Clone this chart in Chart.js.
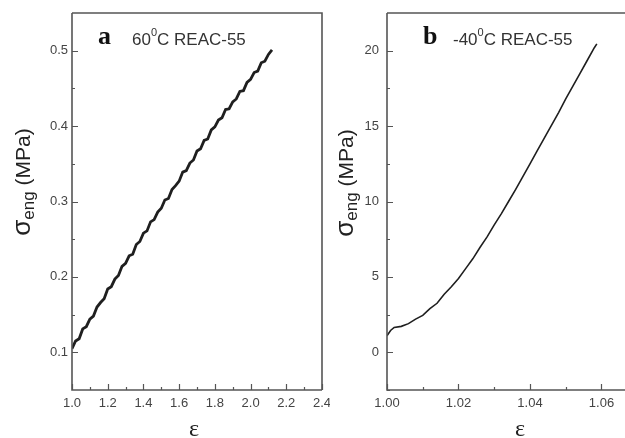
<!DOCTYPE html>
<html>
<head>
<meta charset="utf-8">
<script src="https://cdn.jsdelivr.net/npm/chart.js@4.4.1/dist/chart.umd.min.js"></script>
<style>
  html, body { margin: 0; padding: 0; background: #fff; overflow: hidden; }
  body { width: 625px; height: 438px; position: relative; }
  .panel { position: absolute; top: 0; }
</style>
</head>
<body>
<div class="panel" style="left:0"><canvas id="chartA" width="330" height="438"></canvas></div>
<div class="panel" style="left:330px"><canvas id="chartB" width="300" height="438"></canvas></div>
<script>
// ---- panel a : 60°C, noisy near-linear curve ----
const strainA = [
  1.00, 1.02, 1.04, 1.06, 1.08, 1.10, 1.12, 1.14, 1.16, 1.18,
  1.20, 1.22, 1.24, 1.26, 1.28, 1.30, 1.32, 1.34, 1.36, 1.38,
  1.40, 1.42, 1.44, 1.46, 1.48, 1.50, 1.52, 1.54, 1.56, 1.58,
  1.60, 1.62, 1.64, 1.66, 1.68, 1.70, 1.72, 1.74, 1.76, 1.78,
  1.80, 1.82, 1.84, 1.86, 1.88, 1.90, 1.92, 1.94, 1.96, 1.98,
  2.00, 2.02, 2.04, 2.06, 2.08, 2.10, 2.12
];
const stressA = [
  0.105, 0.115, 0.118, 0.131, 0.134, 0.144, 0.148, 0.160, 0.166, 0.171,
  0.184, 0.187, 0.197, 0.202, 0.214, 0.218, 0.228, 0.230, 0.243, 0.247,
  0.258, 0.261, 0.273, 0.276, 0.286, 0.291, 0.302, 0.304, 0.316, 0.321,
  0.327, 0.339, 0.341, 0.351, 0.355, 0.367, 0.370, 0.381, 0.383, 0.395,
  0.399, 0.408, 0.411, 0.422, 0.423, 0.432, 0.436, 0.446, 0.447, 0.458,
  0.462, 0.471, 0.473, 0.484, 0.486, 0.495, 0.501
];
const xTicksA = [1.0, 1.2, 1.4, 1.6, 1.8, 2.0, 2.2, 2.4];
const xTickLabelsA = ['1.0', '1.2', '1.4', '1.6', '1.8', '2.0', '2.2', '2.4'];
const xMinorA = [1.1, 1.3, 1.5, 1.7, 1.9, 2.1, 2.3];
const yTicksA = [0.1, 0.2, 0.3, 0.4, 0.5];
const yTickLabelsA = ['0.1', '0.2', '0.3', '0.4', '0.5'];
const yMinorA = [0.15, 0.25, 0.35, 0.45];

// ---- panel b : -40°C, stiffening curve ----
const strainB = [
  1.000, 1.001, 1.002, 1.004, 1.006, 1.008, 1.010, 1.012, 1.014, 1.016,
  1.018, 1.020, 1.022, 1.024, 1.026, 1.028, 1.030, 1.032, 1.034, 1.036,
  1.038, 1.040, 1.042, 1.044, 1.046, 1.048, 1.050, 1.052, 1.054, 1.056,
  1.058, 1.0587
];
const stressB = [
  1.1, 1.45, 1.65, 1.72, 1.9, 2.2, 2.45, 2.9, 3.25, 3.85,
  4.35, 4.9, 5.55, 6.2, 6.95, 7.65, 8.45, 9.2, 10.0, 10.8,
  11.65, 12.5, 13.35, 14.2, 15.05, 15.9, 16.8, 17.65, 18.5, 19.35,
  20.2, 20.45
];
const xTicksB = [1.00, 1.02, 1.04, 1.06];
const xTickLabelsB = ['1.00', '1.02', '1.04', '1.06'];
const xMinorB = [1.01, 1.03, 1.05];
const yTicksB = [0, 5, 10, 15, 20];
const yTickLabelsB = ['0', '5', '10', '15', '20'];
const yMinorB = [-2.5, 2.5, 7.5, 12.5, 17.5];

const FRAME = '#555';
const TICK_TEXT = '#444';
const SANS = "'Liberation Sans', Arial, sans-serif";
const SERIF = "'Liberation Serif', 'Times New Roman', serif";

// frame, inward ticks, axis titles and panel caption
function decor(o) {
  return {
    id: 'decor',
    afterDraw(chart) {
      const ctx = chart.ctx;
      const a = chart.chartArea;
      const xs = chart.scales.x, ys = chart.scales.y;
      ctx.save();
      ctx.strokeStyle = FRAME;
      ctx.lineWidth = 1.6;
      ctx.beginPath();
      ctx.moveTo(a.left, a.top);
      ctx.lineTo(a.right + (o.rightBorder ? 0 : 10), a.top);
      if (o.rightBorder) ctx.lineTo(a.right, a.bottom);
      ctx.moveTo(a.left, a.top);
      ctx.lineTo(a.left, a.bottom);
      ctx.lineTo(a.right + (o.rightBorder ? 0 : 10), a.bottom);
      ctx.stroke();

      ctx.lineWidth = 1.2;
      ctx.beginPath();
      const tickX = (vals, len) => vals.forEach(v => {
        const px = Math.round(xs.getPixelForValue(v)) + 0.5;
        ctx.moveTo(px, a.bottom);
        ctx.lineTo(px, a.bottom - len);
      });
      const tickY = (vals, len) => vals.forEach(v => {
        const py = Math.round(ys.getPixelForValue(v)) + 0.5;
        ctx.moveTo(a.left, py);
        ctx.lineTo(a.left + len, py);
      });
      tickX(o.xMajor, 6); tickX(o.xMinor, 3);
      tickY(o.yMajor, 6); tickY(o.yMinor, 3);
      ctx.stroke();

      // y title: σ_eng (MPa), rotated
      ctx.fillStyle = '#222';
      ctx.textBaseline = 'alphabetic';
      ctx.translate(o.yTitleX, o.yTitleY);
      ctx.rotate(-Math.PI / 2);
      const parts = [
        { t: 'σ', f: '26px ' + SANS, dy: 0 },
        { t: 'eng', f: '17px ' + SANS, dy: 4 },
        { t: ' (MPa)', f: '21px ' + SANS, dy: 0 },
      ];
      let total = 0;
      parts.forEach(p => { ctx.font = p.f; p.w = ctx.measureText(p.t).width; total += p.w; });
      let cx = -total / 2;
      parts.forEach(p => { ctx.font = p.f; ctx.fillText(p.t, cx, p.dy); cx += p.w; });
      ctx.setTransform(1, 0, 0, 1, 0, 0);

      // x title
      ctx.font = '24px ' + SERIF;
      ctx.textAlign = 'center';
      ctx.fillText('ε', o.xTitleX, 436);

      // panel letter + condition
      ctx.textAlign = 'left';
      ctx.fillStyle = '#111';
      ctx.font = 'bold 26px ' + SERIF;
      ctx.fillText(o.letter, o.letterX, 44);
      ctx.fillStyle = '#333';
      let tx = o.capX;
      ctx.font = '17px ' + SANS;
      ctx.fillText(o.temp, tx, 45);
      tx += ctx.measureText(o.temp).width;
      ctx.font = '11px ' + SANS;
      ctx.fillText('0', tx, 36);
      tx += ctx.measureText('0').width;
      ctx.font = '17px ' + SANS;
      ctx.fillText('C REAC-55', tx, 45);
      ctx.restore();
    }
  };
}

function makePanel(id, cfg) {
  return new Chart(document.getElementById(id), {
    type: 'scatter',
    data: {
      datasets: [{
        data: cfg.xs.map((x, i) => ({ x, y: cfg.ys[i] })),
        showLine: true,
        borderColor: '#1f1f1f',
        borderWidth: cfg.lineWidth,
        pointRadius: 0,
        tension: 0,
      }],
    },
    options: {
      responsive: false,
      animation: false,
      devicePixelRatio: 1,
      layout: { padding: { top: 13, right: cfg.padRight, bottom: 0, left: 0 } },
      plugins: { legend: { display: false }, tooltip: { enabled: false } },
      scales: {
        x: {
          type: 'linear',
          min: cfg.xMin, max: cfg.xMax,
          grid: { display: false, drawTicks: false },
          border: { display: false },
          afterBuildTicks: s => { s.ticks = cfg.xTicks.map(v => ({ value: v })); },
          afterFit: s => { s.height = 48; s.paddingLeft = 0; s.paddingRight = 0; },
          ticks: {
            autoSkip: false, maxRotation: 0,
            color: TICK_TEXT, padding: 6,
            font: { family: SANS, size: 13 },
            callback: (v, i) => cfg.xLabels[i],
          },
        },
        y: {
          type: 'linear',
          min: cfg.yMin, max: cfg.yMax,
          grid: { display: false, drawTicks: false },
          border: { display: false },
          afterBuildTicks: s => { s.ticks = cfg.yTicks.map(v => ({ value: v })); },
          afterFit: s => { s.width = cfg.yAxisW; s.paddingTop = 0; s.paddingBottom = 0; },
          ticks: {
            autoSkip: false,
            color: TICK_TEXT, padding: cfg.yPad,
            font: { family: SANS, size: 13 },
            callback: (v, i) => cfg.yLabels[i],
          },
        },
      },
    },
    plugins: [decor(cfg.decor)],
  });
}

makePanel('chartA', {
  xs: strainA, ys: stressA, lineWidth: 2.8,
  xMin: 1.0, xMax: 2.4, yMin: 0.05, yMax: 0.55,
  xTicks: xTicksA, xLabels: xTickLabelsA, yTicks: yTicksA, yLabels: yTickLabelsA,
  padRight: 8, yAxisW: 72, yPad: 4,
  decor: {
    rightBorder: true, xMajor: xTicksA, xMinor: xMinorA, yMajor: yTicksA, yMinor: yMinorA,
    yTitleX: 30, yTitleY: 182, xTitleX: 194,
    letter: 'a', letterX: 98, temp: '60', capX: 132,
  },
});

makePanel('chartB', {
  xs: strainB, ys: stressB, lineWidth: 1.6,
  xMin: 1.0, xMax: 1.067, yMin: -2.5, yMax: 22.5,
  xTicks: xTicksB, xLabels: xTickLabelsB, yTicks: yTicksB, yLabels: yTickLabelsB,
  padRight: 3.5, yAxisW: 57, yPad: 8,
  decor: {
    rightBorder: false, xMajor: xTicksB, xMinor: xMinorB, yMajor: yTicksB, yMinor: yMinorB,
    yTitleX: 23, yTitleY: 183, xTitleX: 190,
    letter: 'b', letterX: 93, temp: '-40', capX: 123,
  },
});
</script>
</body>
</html>
